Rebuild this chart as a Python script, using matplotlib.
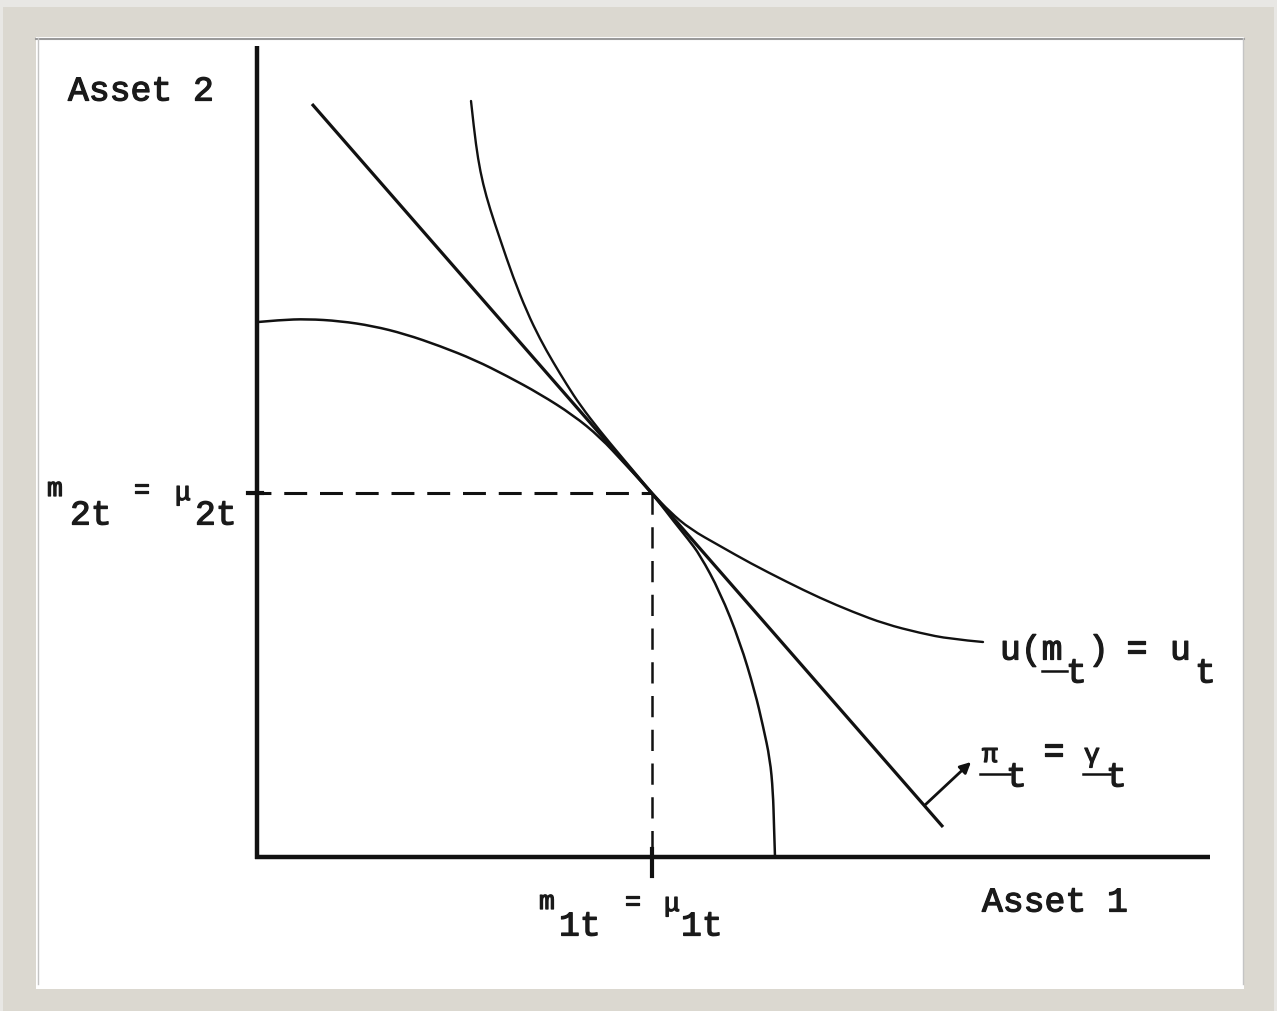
import matplotlib
matplotlib.use("Agg")
import matplotlib.pyplot as plt
from matplotlib.patches import Rectangle, PathPatch
from matplotlib.path import Path
import matplotlib.patheffects as pe

# ---- diagram data (units: origin at the corner of the axes) ----
budget_x = [0.55, 6.86]
budget_y = [7.53, 0.30]

tangent_x = 3.95
tangent_y = 3.64

indiff_x = [2.14, 2.17, 2.21, 2.26, 2.33, 2.43, 2.56, 2.70, 2.83, 2.96, 3.10, 3.23,
            3.43, 3.63, 3.79, 3.95, 4.13, 4.33, 4.63, 4.93, 5.30, 5.63, 5.96, 6.28,
            6.63, 6.93, 7.26]
indiff_y = [7.56, 7.28, 6.98, 6.73, 6.48, 6.18, 5.80, 5.45, 5.18, 4.95, 4.72, 4.52,
            4.26, 4.02, 3.83, 3.64, 3.45, 3.28, 3.11, 2.94, 2.75, 2.59, 2.45, 2.33,
            2.24, 2.18, 2.15]

frontier_x = [0.01, 0.23, 0.50, 0.83, 1.16, 1.48, 1.83, 2.18, 2.50, 2.83, 3.16, 3.43,
              3.68, 3.95, 4.18, 4.31, 4.43, 4.63, 4.83, 4.98, 5.06, 5.13, 5.16, 5.17,
              5.18]
frontier_y = [5.35, 5.37, 5.38, 5.36, 5.31, 5.23, 5.11, 4.97, 4.81, 4.63, 4.42, 4.20,
              3.93, 3.64, 3.34, 3.18, 3.02, 2.65, 2.15, 1.65, 1.31, 0.98, 0.65, 0.31,
              0.00]

arrow_base = (6.68, 0.52)
arrow_tip = (7.14, 0.95)

x_axis_end = 9.53
y_axis_end = 8.11

W, H = 1277, 1012
fig = plt.figure(figsize=(W / 100, H / 100), dpi=100)
fig.patch.set_facecolor("#e8e7e4")

# frame
bg = fig.add_axes([0, 0, 1, 1])
bg.set_xlim(0, W)
bg.set_ylim(H, 0)
bg.axis("off")
bg.add_patch(Rectangle((3, 8), 1271, 1004, facecolor="#dbd8d0", edgecolor="none"))
bg.add_patch(Rectangle((36, 38), 1208, 952, facecolor="white", edgecolor="none"))
bg.plot([36, 1244], [39.5, 39.5], color="#9a9a9a", lw=1.5)
bg.plot([37.5, 37.5], [39, 985], color="#c4c4c4", lw=1.0)
bg.plot([1242.5, 1242.5], [39, 985], color="#c4c4c4", lw=1.0)

# diagram axes in data units
ax = fig.add_axes([0, 0, 1, 1])
ax.set_xlim(-2.57, 10.20)
ax.set_ylim(-1.54, 8.58)
ax.axis("off")
ax.patch.set_alpha(0)

k = "#111111"


def smooth_curve(xs, ys, lw):
    # quadratic Bezier chain: read points act as control points
    pts = list(zip(xs, ys))
    verts = [pts[0]]
    codes = [Path.MOVETO]
    for i in range(1, len(pts) - 1):
        mid = ((pts[i][0] + pts[i + 1][0]) / 2, (pts[i][1] + pts[i + 1][1]) / 2)
        if i == len(pts) - 2:
            mid = pts[-1]
        verts += [pts[i], mid]
        codes += [Path.CURVE3, Path.CURVE3]
    ax.add_patch(PathPatch(Path(verts, codes), facecolor="none", edgecolor=k,
                           lw=lw, capstyle="round", joinstyle="round"))


ax.plot([0, 0], [-0.02, y_axis_end], color=k, lw=3.2, solid_capstyle="butt")
ax.plot([-0.02, x_axis_end], [0, 0], color=k, lw=3.2, solid_capstyle="butt")

ax.plot(budget_x, budget_y, color=k, lw=2.3, solid_capstyle="butt")
smooth_curve(indiff_x, indiff_y, 1.7)
smooth_curve(frontier_x, frontier_y, 1.8)

ax.plot([-0.09, tangent_x], [tangent_y, tangent_y], color=k, lw=2.2,
        linestyle=(0, (7.5, 4.2)))
ax.plot([tangent_x, tangent_x], [tangent_y, 0], color=k, lw=1.8,
        linestyle=(0, (8.5, 5)))
ax.plot([tangent_x, tangent_x], [0.08, -0.19], color=k, lw=3.0)
ax.plot([-0.09, 0.05], [tangent_y, tangent_y], color=k, lw=3.0)

ax.annotate("", xy=arrow_tip, xytext=arrow_base,
            arrowprops=dict(arrowstyle="-|>", color=k, lw=2.0, mutation_scale=16,
                            shrinkA=0, shrinkB=0))

# ---- labels ----
mono = "Liberation Mono"
fx = [pe.withStroke(linewidth=0.9, foreground="#1a1a1a")]
big = dict(family=mono, fontsize=25, color="#1a1a1a", va="center", ha="left",
           path_effects=fx)
small = dict(family=mono, fontsize=19, color="#1a1a1a", va="center", ha="left",
             path_effects=fx)


def px(x):
    return (x - 257) / 100.0


def py(y):
    return (858 - y) / 100.0


ax.text(px(68), py(92), "Asset 2", **big)
ax.text(px(982), py(903), "Asset 1", **big)

# m2t = mu2t
ax.text(px(47), py(490), "m", **small)
ax.text(px(70), py(516), "2t", **big)
ax.text(px(134), py(491), "=", **small)
ax.text(px(175), py(494), "\u03bc", **small)
ax.text(px(195), py(516), "2t", **big)

# m1t = mu1t
ax.text(px(539), py(903), "m", **small)
ax.text(px(559), py(927), "1t", **big)
ax.text(px(625), py(903), "=", **small)
ax.text(px(664), py(905), "\u03bc", **small)
ax.text(px(681), py(927), "1t", **big)

# u(m_t) = u_t
ax.text(px(1000), py(651), "u(m", **big)
ax.plot([px(1042), px(1067)], [py(672), py(672)], color=k, lw=1.8)
ax.text(px(1066), py(674), "t", **big)
ax.text(px(1088), py(651), ")", **big)
ax.text(px(1126), py(650), "=", **big)
ax.text(px(1170), py(651), "u", **big)
ax.text(px(1195), py(674), "t", **big)

# pi_t = gamma_t
ax.text(px(982), py(756), "\u03c0", **small)
ax.plot([px(980), px(1010)], [py(775), py(775)], color=k, lw=1.8)
ax.text(px(1006), py(778), "t", **big)
ax.text(px(1043), py(753), "=", **big)
ax.text(px(1084), py(756), "\u03b3", **small)
ax.plot([px(1083), px(1110)], [py(775), py(775)], color=k, lw=1.8)
ax.text(px(1106), py(778), "t", **big)

fig.savefig("out.png", dpi=100, facecolor=fig.get_facecolor())
